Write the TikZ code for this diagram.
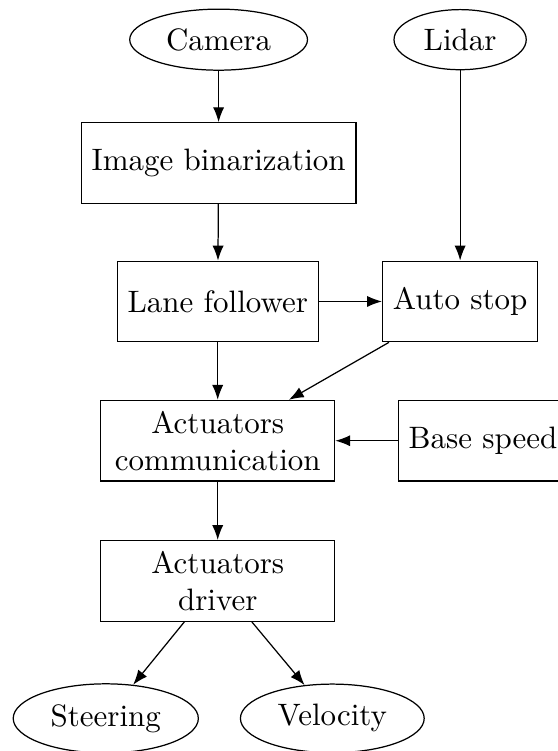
\documentclass[tikz,border=0pt]{standalone}
\usetikzlibrary{arrows.meta,shapes.geometric}

\begin{document}
\begin{tikzpicture}

\useasboundingbox (0,0) rectangle (6.32,-8.52);

\tikzset{SensorNode/.style={ellipse,draw},
         BlockNode/.style={rectangle,draw,minimum height=26pt,align=center}}

\begin{scope}[every node/.style={}]
    % Inputs
    \node (A) at (2.48,-0.45) [SensorNode] {Camera};
    \node (B) at (5.22,-0.45) [SensorNode] {Lidar};

    % Processing blocks
    \node (C) at (2.48,-1.85) [BlockNode] {Image binarization};
    \node (D) at (2.47,-3.42) [BlockNode] {Lane follower};
    \node (E) at (5.22,-3.42) [BlockNode] {Auto stop};

    \node (F) at (2.47,-5.00) [BlockNode, text width=2.42cm] 
        {Actuators\\communication};
    \node (G) at (5.48,-5.00) [BlockNode] {Base speed};

    \node (H) at (2.47,-6.59) [BlockNode, text width=2.42cm] 
        {Actuators\\driver};

    % Outputs
    \node (I) at (1.20,-8.15) [SensorNode] {Steering};
    \node (J) at (3.77,-8.15) [SensorNode] {Velocity};
\end{scope}

\begin{scope}[>={Latex}]
    \draw [->] (A) -- (C);
    \draw [->] (C) -- (D);
    \draw [->] (B) -- (E);
    \draw [->] (D) -- (E);
    \draw [->] (D) -- (F);
    \draw [->] (E) -- (F);
    \draw [->] (G) -- (F);
    \draw [->] (F) -- (H);
    \draw [->] (H) -- (I);
    \draw [->] (H) -- (J);
\end{scope}

\end{tikzpicture}
\end{document}
